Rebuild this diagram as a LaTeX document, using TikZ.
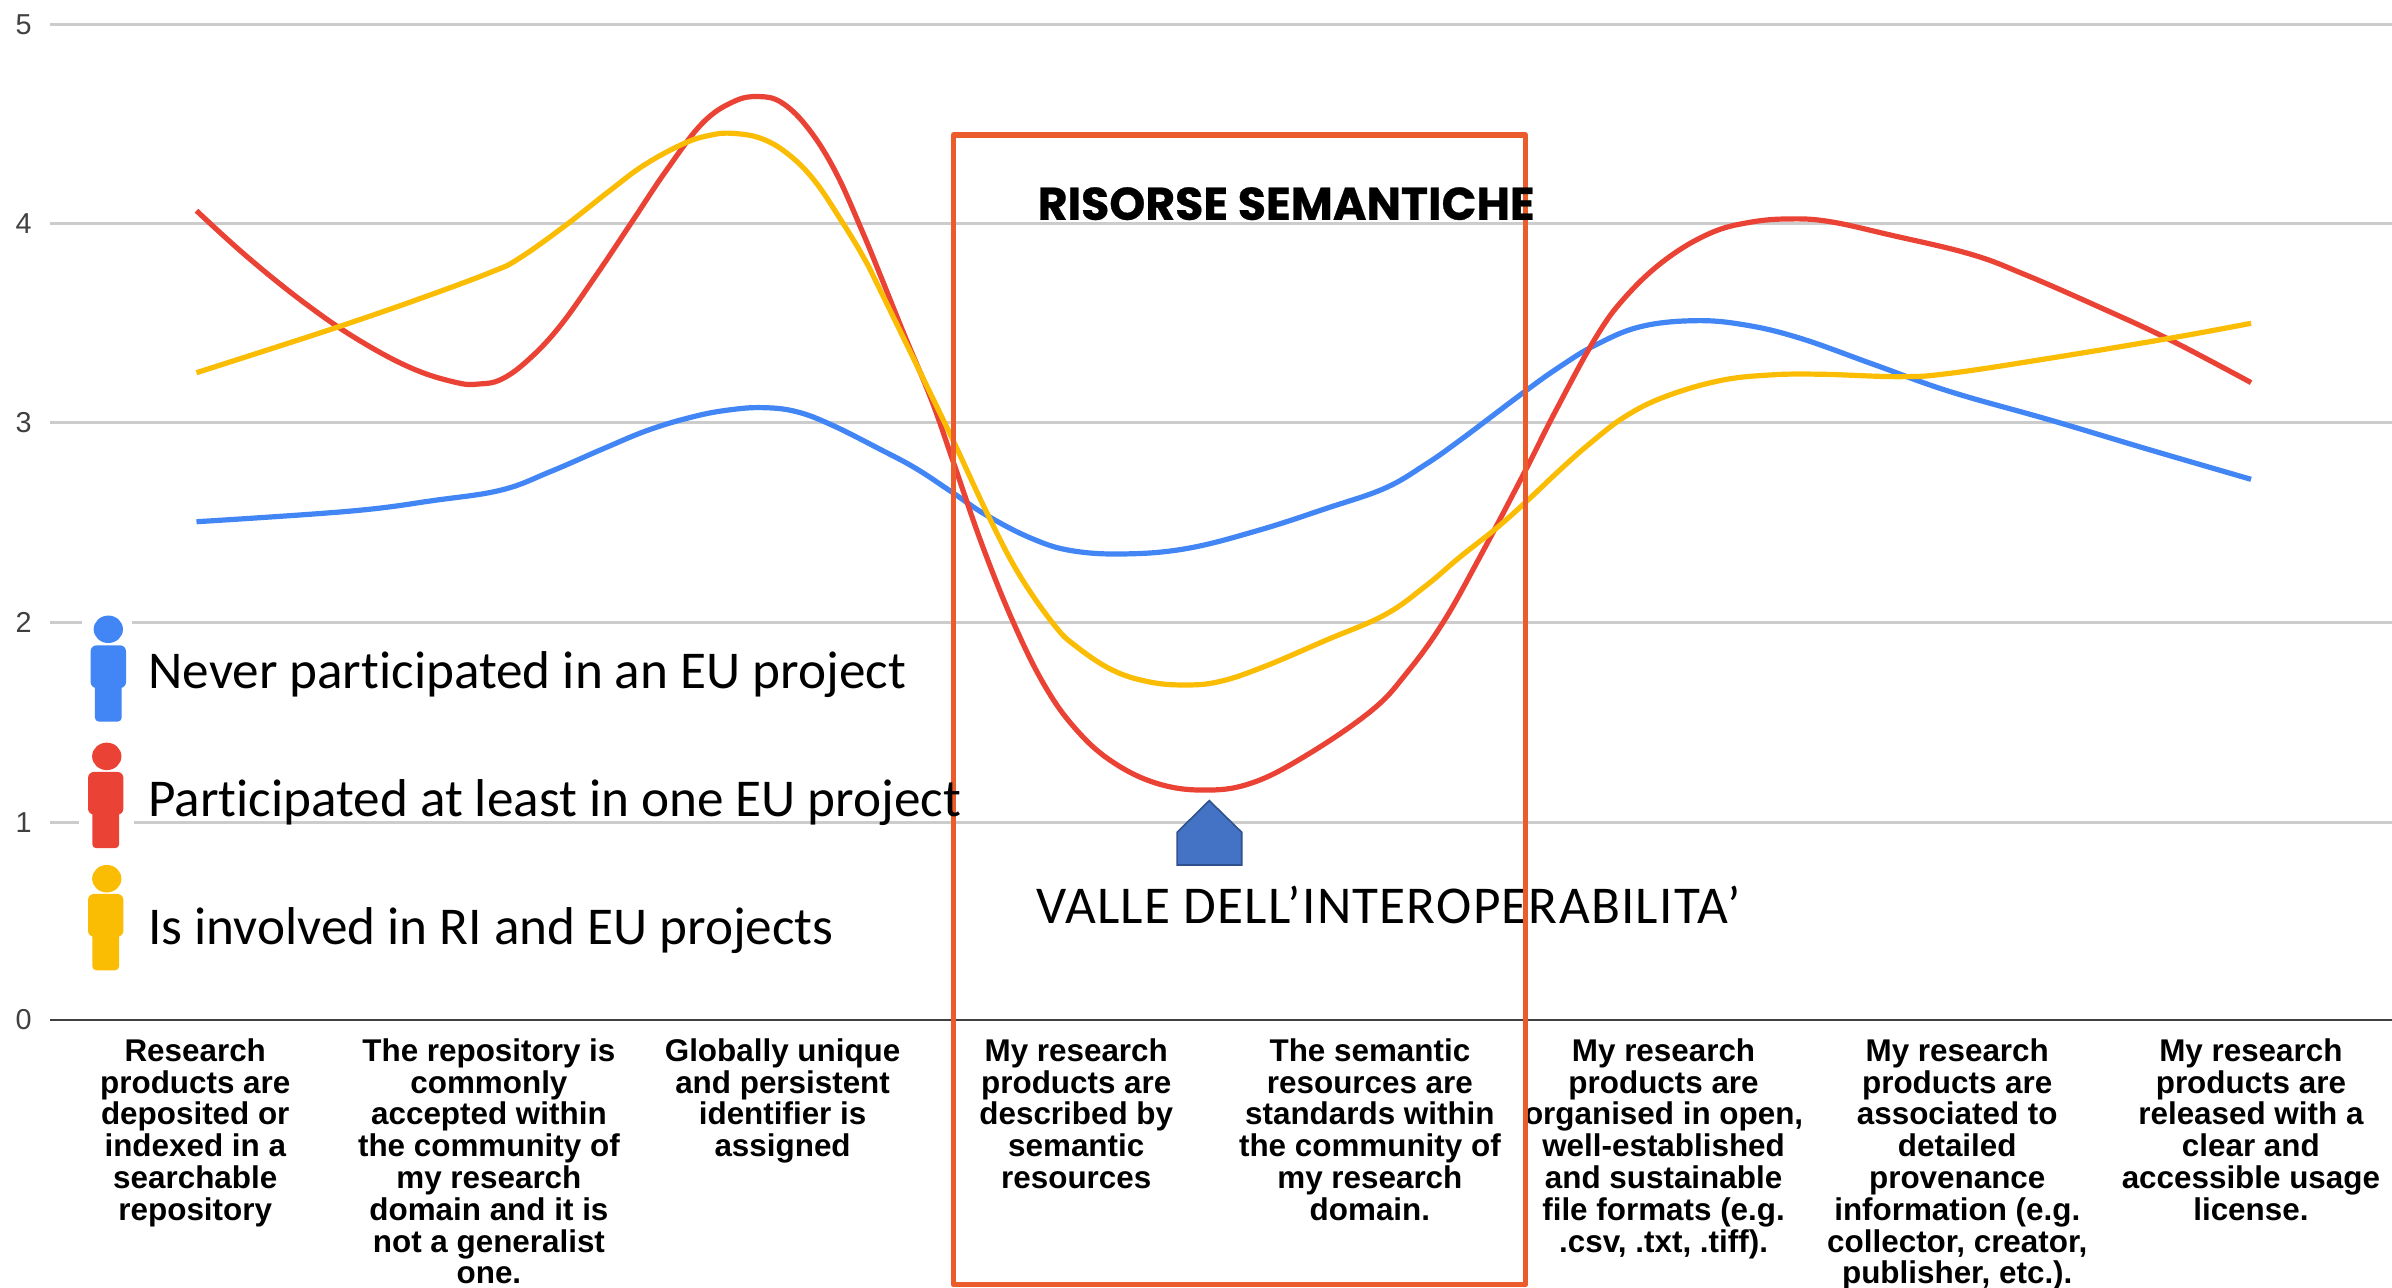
\documentclass[tikz,border=0pt]{standalone}
\usepackage{fontspec}
\setmainfont{Liberation Sans}
\newfontfamily\legendfont[Ligatures=NoCommon]{Carlito}
\newfontfamily\valleyfont[Ligatures=NoCommon,LetterSpace=2.3]{Carlito}
\newfontfamily\titlefont[BoldFeatures={FakeBold=0.6}]{Poppins}
\definecolor{cblue}{HTML}{4285F4}
\definecolor{cred}{HTML}{EA4335}
\definecolor{cyel}{HTML}{FBBC04}
\definecolor{cbox}{HTML}{EB5B2C}
\definecolor{arrowfill}{HTML}{4472C4}
\definecolor{arrowline}{HTML}{2F528F}
\tikzset{
  gridline/.style={draw=black!20,line width=1.4pt},
  axisline/.style={draw=black!75,line width=1.4pt},
  ticklabel/.style={text=black!75,font=\fontsize{14.4}{16}\selectfont,inner sep=0pt},
  catlabel/.style={anchor=north,align=center,inner sep=0pt,font=\fontsize{15.7}{15.9}\selectfont\bfseries},
  legendlabel/.style={anchor=west,inner sep=0pt,font=\fontsize{26.6}{30}\selectfont\legendfont},
  curve/.style={line width=2.6pt,line join=round,smooth,tension=0.65},
}
\newcommand{\personicon}[5]{% x head, y head, x body left, y body top, colour
  \fill[#5] (#1,#2) ellipse [x radius=9.6,y radius=9];
  \fill[#5,rounded corners=3pt] (#3,#4) rectangle ++(23.2,28);
  \fill[#5,rounded corners=2pt] (#3+2.8,#4+20) rectangle ++(17.6,30);
}
\begin{document}
\begin{tikzpicture}[x=0.76276pt,y=-0.76276pt]
\useasboundingbox (0,0) rectangle (1568,843.65);
% grid
\foreach \yy/\nm in {16/5,146.5/4,277/3,408/2,539/1}{
  \draw[gridline] (33,\yy) -- (1568,\yy);
  \node[ticklabel] (tick\nm) at (15.5,\yy) {\nm};
}
\draw[axisline] (33,668.6) -- (1568,668.6);
\node[ticklabel] (tick0) at (15.5,668.6) {0};
% legend halo
\fill[white] (54,400) rectangle (86.5,480);
\fill[white] (52,486) rectangle (88,560);
% curves
\draw[curve,cblue] plot coordinates {(128.8,342) (230,335) (284.8,328) (328.7,321.2) (360.9,309.1) (396,293.9) (425.3,281.8) (454.6,273.1) (478,268.7) (499.9,267.2) (521.9,269.8) (545.3,278.6) (576.9,294.5) (600.3,307) (623.7,322.4) (647.1,338) (676.4,353) (702.7,361) (737.9,363.1) (778.8,359.4) (825.7,347.4) (869.6,333.2) (907.6,320.1) (933.9,304.8) (957.3,288.4) (999.7,256.5) (1022.6,240.3) (1045.6,226.3) (1075.1,214.2) (1111.1,210.2) (1143.9,213) (1180,221.7) (1229.1,239.2) (1278.3,256.7) (1343.8,275.3) (1409.4,294.9) (1475.6,314.2)};
\draw[curve,cred] plot coordinates {(128.8,138.1) (161.9,168.2) (199.9,198.8) (235,222.8) (270.2,241.5) (299.4,250.8) (314,251.7) (328.7,248.6) (346.3,235.9) (366.8,214.1) (390.2,181.3) (413.6,146.4) (437,111.4) (460.4,80.8) (480.9,66.6) (497.6,63.3) (513.1,67.7) (530.6,85.2) (548.2,113.6) (565.8,153) (576.9,180) (593,220) (610.6,262.2) (625.2,303.7) (644.2,358.3) (664.7,409) (685.2,450.1) (705.7,478.5) (729.1,499.3) (758.3,513.5) (789.1,517.9) (819.8,513.5) (854.9,496) (898.8,466) (922.2,441) (945.6,408.6) (969,367.1) (999,310.2) (1019.4,270) (1045.6,222) (1065.2,195) (1091.5,170.4) (1121,152.9) (1147.2,145.7) (1173.4,143.5) (1199.6,145.3) (1239,154) (1291.4,166.5) (1327.4,180) (1376.6,201.5) (1422.5,222.8) (1475.6,250.8)};
\draw[curve,cyel] plot coordinates {(128.8,244.3) (176.5,229) (223.4,213.7) (276,195.5) (322.9,178) (340.4,169.3) (369.7,148.5) (398.9,125.6) (422.4,108.1) (448.7,93.9) (466.3,88.5) (480,87.4) (498.5,90.6) (516,100.5) (533.6,118) (551.1,144) (565.8,168.2) (576.9,190) (612,262.2) (626.7,292.8) (647.1,336.5) (667.6,375.8) (691,409.6) (705.7,423.9) (729.1,439.2) (752.5,446.8) (775.9,449) (799.3,446.8) (828.6,437) (869.6,419.5) (907.6,403.1) (933.9,384.6) (957.3,364.9) (980.8,346.3) (1000.5,328.8) (1022.6,308) (1042.3,290.6) (1065.2,273.1) (1091.5,260) (1127.5,249.5) (1160.3,245.8) (1193.1,245.3) (1245.5,246.9) (1278.3,244.7) (1343.8,234.8) (1422.5,221.7) (1475.6,211.9)};
% category labels
\node[catlabel] (c1) at (128,680.5) {Research\\products are\\deposited or\\indexed in a\\searchable\\repository};
\node[catlabel] (c2) at (320.5,680.5) {The repository is\\commonly\\accepted within\\the community of\\my research\\domain and it is\\not a generalist\\one.};
\node[catlabel] (c3) at (513,680.5) {Globally unique\\and persistent\\identifier is\\assigned};
\node[catlabel] (c4) at (705.5,680.5) {My research\\products are\\described by\\semantic\\resources};
\node[catlabel] (c5) at (898,680.5) {The semantic\\resources are\\standards within\\the community of\\my research\\domain.};
\node[catlabel] (c6) at (1090.5,680.5) {My research\\products are\\organised in open,\\well-established\\and sustainable\\file formats (e.g.\\.csv, .txt, .tiff).};
\node[catlabel] (c7) at (1283,680.5) {My research\\products are\\associated to\\detailed\\provenance\\information (e.g.\\collector, creator,\\publisher, etc.).};
\node[catlabel] (c8) at (1475.5,680.5) {My research\\products are\\released with a\\clear and\\accessible usage\\license.};
% valley label sits under the box
\node[anchor=west,inner sep=0pt,font=\fontsize{26.6}{30}\selectfont\valleyfont] (valley) at (679,593.5) {VALLE DELL’INTEROPERABILITA’};
% box
\draw[cbox,line width=2.6pt,line join=round] (625,88.5) rectangle (1000,842);
% legend
\personicon{71}{412.5}{59.4}{423}{cblue}
\personicon{70}{495.8}{57.7}{506}{cred}
\personicon{70}{576}{57.7}{586}{cyel}
\node[legendlabel] (l1) at (97,442) {Never participated in an EU project};
\node[legendlabel] (l2) at (97,526) {Participated at least in one EU project};
\node[legendlabel] (l3) at (97,610) {Is involved in RI and EU projects};
% annotations
\node[anchor=west,inner sep=0pt,font=\fontsize{22.9}{26}\selectfont\titlefont\bfseries] (title) at (680,133.5) {RISORSE SEMANTICHE};
\filldraw[fill=arrowfill,draw=arrowline,line width=0.8pt] (771.6,567) -- (771.6,545.6) -- (792.7,524.8) -- (814,545.6) -- (814,567) -- cycle;
\end{tikzpicture}
\end{document}
